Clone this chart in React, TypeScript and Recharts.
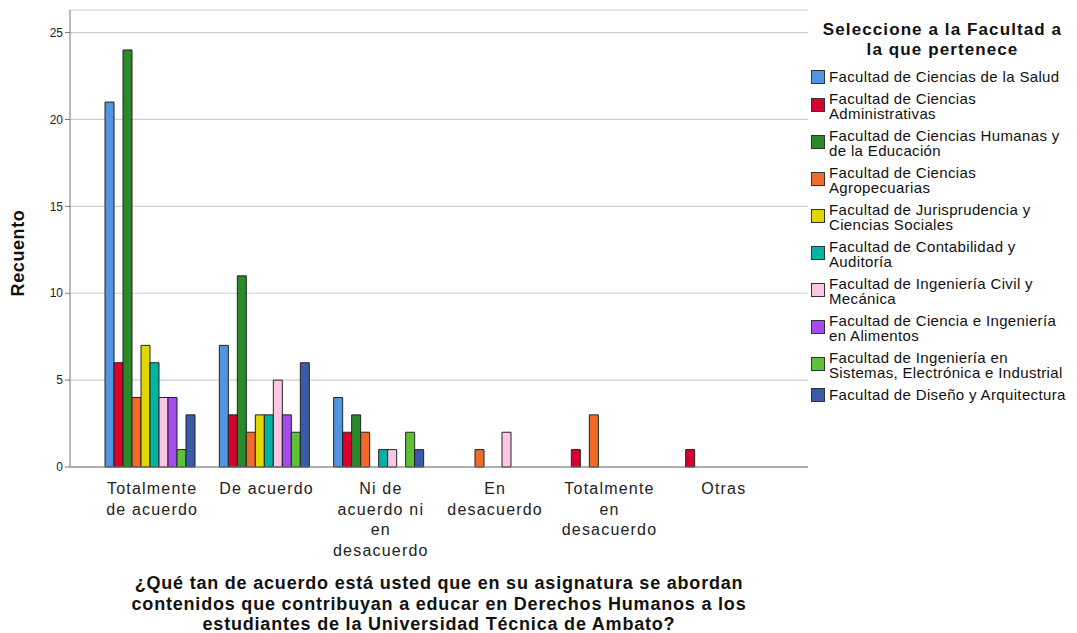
import { BarChart, Bar, XAxis, YAxis, CartesianGrid } from 'recharts'

const categories = [
  'Totalmente de acuerdo',
  'De acuerdo',
  'Ni de acuerdo ni en desacuerdo',
  'En desacuerdo',
  'Totalmente en desacuerdo',
  'Otras',
]
const categoryLines = [
  ['Totalmente', 'de acuerdo'],
  ['De acuerdo'],
  ['Ni de', 'acuerdo ni', 'en', 'desacuerdo'],
  ['En', 'desacuerdo'],
  ['Totalmente', 'en', 'desacuerdo'],
  ['Otras'],
]

const faculties = [
  'Facultad de Ciencias de la Salud',
  'Facultad de Ciencias Administrativas',
  'Facultad de Ciencias Humanas y de la Educación',
  'Facultad de Ciencias Agropecuarias',
  'Facultad de Jurisprudencia y Ciencias Sociales',
  'Facultad de Contabilidad y Auditoría',
  'Facultad de Ingeniería Civil y Mecánica',
  'Facultad de Ciencia e Ingeniería en Alimentos',
  'Facultad de Ingeniería en Sistemas, Electrónica e Industrial',
  'Facultad de Diseño y Arquitectura',
]
const facultyLines = [
  ['Facultad de Ciencias de la Salud'],
  ['Facultad de Ciencias', 'Administrativas'],
  ['Facultad de Ciencias Humanas y', 'de la Educación'],
  ['Facultad de Ciencias', 'Agropecuarias'],
  ['Facultad de Jurisprudencia y', 'Ciencias Sociales'],
  ['Facultad de Contabilidad y', 'Auditoría'],
  ['Facultad de Ingeniería Civil y', 'Mecánica'],
  ['Facultad de Ciencia e Ingeniería', 'en Alimentos'],
  ['Facultad de Ingeniería en', 'Sistemas, Electrónica e Industrial'],
  ['Facultad de Diseño y Arquitectura'],
]
const colors = [
  '#5094E2',
  '#D8002D',
  '#2A8A2A',
  '#F26A2A',
  '#E0D700',
  '#00B3A2',
  '#FFC6E4',
  '#A54CF0',
  '#5EC237',
  '#3A5BA9',
]

// counts per faculty, one entry per category
const salud = [21, 7, 4, 0, 0, 0]
const administrativas = [6, 3, 2, 0, 1, 1]
const humanas = [24, 11, 3, 0, 0, 0]
const agropecuarias = [4, 2, 2, 1, 3, 0]
const jurisprudencia = [7, 3, 0, 0, 0, 0]
const contabilidad = [6, 3, 1, 0, 0, 0]
const civil = [4, 5, 1, 2, 0, 0]
const alimentos = [4, 3, 0, 0, 0, 0]
const sistemas = [1, 2, 2, 0, 0, 0]
const diseno = [3, 6, 1, 0, 0, 0]
const series = [salud, administrativas, humanas, agropecuarias, jurisprudencia, contabilidad, civil, alimentos, sistemas, diseno]

const yTicks = [0, 5, 10, 15, 20, 25]
const yTitle = 'Recuento'
const xTitle = [
  '¿Qué tan de acuerdo está usted que en su asignatura se abordan',
  'contenidos que contribuyan a educar en Derechos Humanos a los',
  'estudiantes de la Universidad Técnica de Ambato?',
]
const legendTitle = ['Seleccione a la Facultad a', 'la que pertenece']

const data = categories.map((c, i) => {
  const row: Record<string, string | number> = { name: c, idx: i }
  series.forEach((s, j) => {
    row['f' + j] = s[i]
  })
  return row
})

const FONT = '"Liberation Sans", Arial, sans-serif'

const CategoryTick = (props: any) => {
  const { x, y, index } = props
  const lines = categoryLines[index] || []
  return (
    <text x={x} y={y} textAnchor="middle" fontSize={16} letterSpacing={1.2} fill="#222" fontFamily={FONT}>
      {lines.map((l, i) => (
        <tspan key={i} x={x} dy={i === 0 ? 19 : 20.5}>
          {l}
        </tspan>
      ))}
    </text>
  )
}

const XTitle = (props: any) => {
  const vb = props.viewBox || {}
  const cx = vb.x + vb.width / 2
  return (
    <text x={cx} y={579} textAnchor="middle" fontSize={18} letterSpacing={0.8} fontWeight="bold" fill="#111" fontFamily={FONT}>
      {xTitle.map((l, i) => (
        <tspan key={i} x={cx} dy={i === 0 ? 10 : 20.5}>
          {l}
        </tspan>
      ))}
    </text>
  )
}

const YTitle = () => (
  <text
    x={24}
    y={253}
    transform="rotate(-90 24 253)"
    textAnchor="middle"
    fontSize={18}
    letterSpacing={0.6}
    fontWeight="bold"
    fill="#111"
    fontFamily={FONT}
  >
    {yTitle}
  </text>
)

const Legend = () => (
  <div style={{ position: 'absolute', left: 808, top: 20, width: 269, fontFamily: FONT, color: '#111' }}>
    <div style={{ textAlign: 'center', fontWeight: 'bold', fontSize: 17, letterSpacing: 1.1, lineHeight: '20px', marginBottom: 9 }}>
      {legendTitle.map((l, i) => (
        <div key={i}>{l}</div>
      ))}
    </div>
    {faculties.map((f, i) => (
      <div
        key={f}
        style={{ position: 'relative', paddingLeft: 21, fontSize: 15, letterSpacing: 0.35, lineHeight: '15.5px', marginBottom: 6, whiteSpace: 'nowrap' }}
      >
        <div
          style={{
            position: 'absolute',
            left: 3,
            top: facultyLines[i].length > 1 ? 7 : 1,
            width: 14,
            height: 14,
            background: colors[i],
            border: '1px solid #333',
            boxSizing: 'border-box',
          }}
        />
        {facultyLines[i].map((l, k) => (
          <div key={k}>{l}</div>
        ))}
      </div>
    ))}
  </div>
)

const App = () => (
  <div style={{ position: 'relative', margin: '-8px 0 0 -8px', width: 1077, height: 633, background: '#fff' }}>
    <BarChart
      width={1077}
      height={633}
      data={data}
      margin={{ top: 10, right: 269, bottom: 0, left: 0 }}
      barCategoryGap={10}
      barGap={0}
    >
      <CartesianGrid vertical={false} stroke="#cfcfcf" strokeWidth={1.2} />
      <XAxis
        dataKey="name"
        interval={0}
        height={166}
        padding={{ left: 25, right: 27 }}
        tickLine={false}
        axisLine={{ stroke: '#777' }}
        tick={<CategoryTick />}
        label={<XTitle />}
      />
      <YAxis
        width={70}
        domain={[0, 26.3]}
        ticks={yTicks}
        tickSize={5}
        tickLine={{ stroke: '#777' }}
        axisLine={{ stroke: '#777' }}
        tick={{ fontSize: 12, fill: '#222', fontFamily: FONT }}
        label={<YTitle />}
      />
      {faculties.map((f, j) => (
        <Bar key={f} dataKey={'f' + j} name={f} fill={colors[j]} stroke="#222" strokeWidth={1} isAnimationActive={false} />
      ))}
    </BarChart>
    <Legend />
  </div>
)

export default App
